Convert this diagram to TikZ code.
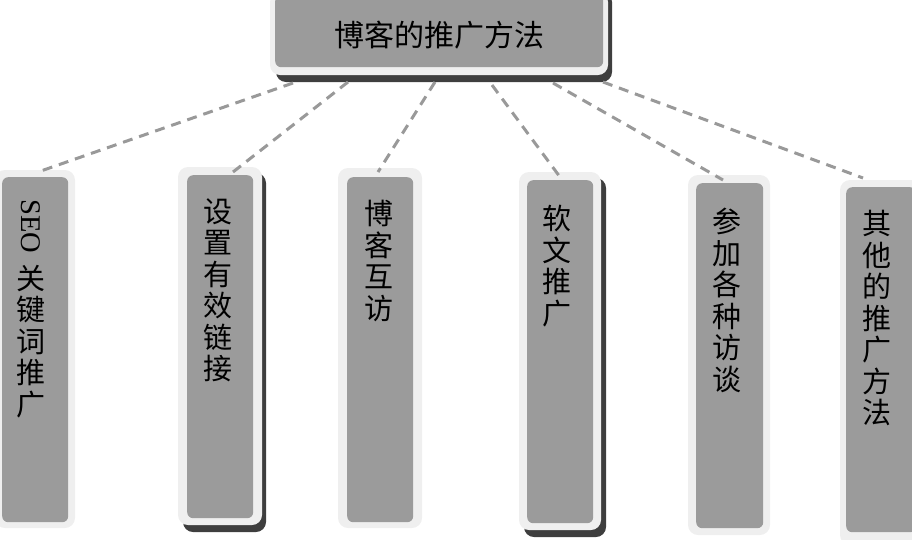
\documentclass[tikz,border=0pt]{standalone}
\usepackage{fontspec}
\setmainfont{Liberation Serif}
\newfontfamily\cjk{Noto Sans CJK SC}
\usepackage{graphicx}
\definecolor{boxgray}{HTML}{9B9B9B}
\definecolor{rimgray}{HTML}{EFEFEF}
\definecolor{shadowgray}{HTML}{3E3E3E}
\definecolor{linegray}{HTML}{999999}
\tikzset{
  rim/.style={fill=rimgray, rounded corners=10pt},
  shade/.style={fill=shadowgray, rounded corners=10pt},
  graybox/.style={fill=boxgray, rounded corners=6pt, draw=none, inner sep=0pt},
  vtext/.style={anchor=north, inner sep=0pt, align=center, font=\cjk\fontsize{29}{31.5}\selectfont},
  conn/.style={draw=linegray, line width=3pt, dash pattern=on 10pt off 7pt},
}
\begin{document}
\begin{tikzpicture}[x=1pt,y=-1pt]
\useasboundingbox (0,0) rectangle (912,539);
\clip (0,0) rectangle (912,539);
% top box
\fill[shade] (276,-8) rectangle (612,82);
\fill[rim] (270,-8) rectangle (608,75);
\node[graybox, minimum width=328pt, minimum height=72pt, anchor=north west] (top) at (275,-5) {};
\node[font=\cjk\fontsize{30}{34}\selectfont, inner sep=0pt] (toptext) at (439,35) {博客的推广方法};
% box 1
\fill[rim] (-5,170) rectangle (75,528);
\node[graybox, minimum width=66pt, minimum height=345pt, anchor=north west] (b1) at (2,177) {};
% box 2
\fill[shade] (183,173) rectangle (266,532);
\fill[rim] (178,167) rectangle (262,525);
\node[graybox, minimum width=66pt, minimum height=343pt, anchor=north west] (b2) at (187,175) {};
% box 3
\fill[rim] (338,168) rectangle (422,528);
\node[graybox, minimum width=66pt, minimum height=345pt, anchor=north west] (b3) at (347,177) {};
% box 4
\fill[shade] (524,178) rectangle (606,537);
\fill[rim] (519,172) rectangle (601,530);
\node[graybox, minimum width=66pt, minimum height=343pt, anchor=north west] (b4) at (527,180) {};
% box 5
\fill[rim] (688,175) rectangle (770,535);
\node[graybox, minimum width=67pt, minimum height=345pt, anchor=north west] (b5) at (696,183) {};
% box 6
\fill[rim] (840,180) rectangle (925,545);
\node[graybox, minimum width=70pt, minimum height=345pt, anchor=north west] (b6) at (846,187) {};
% texts
\node[vtext] (t1) at (31,199) {{\rotatebox{-90}{\rmfamily\fontsize{28.5}{31}\selectfont SEO}}\\[11pt]关\\键\\词\\推\\广};
\node[vtext] (t2) at (218,198) {设\\置\\有\\效\\链\\接};
\node[vtext] (t3) at (379,200) {博\\客\\互\\访};
\node[vtext] (t4) at (557,205) {软\\文\\推\\广};
\node[vtext] (t5) at (727,208) {参\\加\\各\\种\\访\\谈};
\node[vtext] (t6) at (877,210) {其\\他\\的\\推\\广\\方\\法};
% connectors
\coordinate (s1) at (293,83); \coordinate (e1) at (38,172);
\coordinate (s2) at (348,82); \coordinate (e2) at (233,172);
\coordinate (s3) at (435,82); \coordinate (e3) at (378,172);
\coordinate (s4) at (492,85); \coordinate (e4) at (560,177);
\coordinate (s5) at (553,83); \coordinate (e5) at (723,180);
\coordinate (s6) at (603,82); \coordinate (e6) at (863,178);
\draw[conn] (s1) -- (e1);
\draw[conn] (s2) -- (e2);
\draw[conn] (s3) -- (e3);
\draw[conn] (s4) -- (e4);
\draw[conn] (s5) -- (e5);
\draw[conn] (s6) -- (e6);
\end{tikzpicture}
\end{document}
